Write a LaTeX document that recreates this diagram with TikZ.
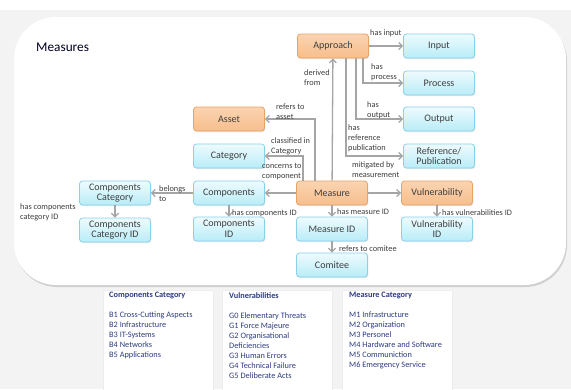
\documentclass[tikz,border=0pt]{standalone}
\usepackage{fontspec}
\setmainfont{Carlito}
\usetikzlibrary{arrows.meta,shadows}

\definecolor{bggray}{HTML}{F3F3F3}
\definecolor{ortop}{HTML}{FAD4B2}
\definecolor{orbot}{HTML}{F7BE8C}
\definecolor{orline}{HTML}{E8A263}
\definecolor{bltop}{HTML}{EEFBFE}
\definecolor{blbot}{HTML}{B8ECF8}
\definecolor{blline}{HTML}{88D1EA}
\definecolor{linkgray}{HTML}{A5A5A5}
\definecolor{txtgray}{HTML}{3E3E3E}
\definecolor{navy}{HTML}{2E3C82}

\tikzset{
  box/.style={rounded corners=3pt, minimum width=71pt, minimum height=24pt,
    inner sep=1.5pt, align=center, font=\fontsize{10}{10.5}\selectfont, text=txtgray,
    line width=0.8pt, drop shadow={opacity=0.18, shadow xshift=0.8pt, shadow yshift=-1pt}},
  orbox/.style={box, draw=orline, top color=ortop, bottom color=orbot},
  blbox/.style={box, draw=blline, top color=bltop, bottom color=blbot},
  link/.style={draw=linkgray, line width=1.3pt, -{Straight Barb[length=3.5pt,width=7pt]}},
  lbl/.style={font=\fontsize{8.3}{10}\selectfont, text=txtgray, align=left,
    anchor=west, inner sep=0pt},
  panel/.style={fill=white, draw=black!7, line width=0.6pt},
  listtext/.style={font=\fontsize{8.3}{10}\selectfont, text=navy, align=left,
    anchor=north west, inner sep=0pt}
}

\begin{document}
\begin{tikzpicture}[x=1pt, y=-1pt]
  \useasboundingbox (0,0) rectangle (571,389);
  \clip (0,0) rectangle (571,389);
  \fill[white] (0,0) rectangle (571,389);
  \fill[bggray] (0,10) rectangle (571,389);

  % main frame
  \fill[white, rounded corners=42pt, drop shadow={opacity=0.3, shadow xshift=1pt, shadow yshift=-2pt}]
    (14,17) rectangle (566,285);
  \node[font=\fontsize{13.3}{14}\selectfont, text=black!75!blue!60!black, anchor=west, inner sep=0pt]
    (title) at (36,47.5) {Measures};

  % nodes
  \node[orbox] (approach) at (333,46) {Approach};
  \node[blbox] (input) at (439,46) {Input};
  \node[blbox] (process) at (439,83) {Process};
  \node[blbox] (output) at (439,119) {Output};
  \node[blbox] (reference) at (439,156) {Reference/\\Publication};
  \node[orbox] (measure) at (332,193) {Measure};
  \node[orbox] (vuln) at (437,193) {Vulnerability};
  \node[orbox] (asset) at (229,119) {Asset};
  \node[blbox] (category) at (229,156) {Category};
  \node[blbox] (components) at (229,193) {Components};
  \node[blbox] (compcat) at (115,193) {Components\\Category};
  \node[blbox] (compcatid) at (115,230) {Components\\Category ID};
  \node[blbox] (compid) at (229,229) {Components\\ID};
  \node[blbox] (measureid) at (332,229) {Measure ID};
  \node[blbox] (vulnid) at (437,229) {Vulnerability\\ID};
  \node[blbox] (comitee) at (332,265) {Comitee};

  % connectors
  \draw[link] (approach) -- (input);
  \draw[link] ([xshift=30pt]approach.south) |- (process);
  \draw[link] ([xshift=23pt]approach.south) |- (output);
  \draw[link] ([xshift=13pt]approach.south) |- (reference);
  \draw[link] (measure) -- (approach);
  \draw[link] (measure) -- (vuln);
  \draw[link] ([xshift=-17pt]measure.north) |- (asset);
  \draw[link] ([xshift=-29pt]measure.north) |- (category);
  \draw[link] (measure) -- (components);
  \draw[link] (components) -- (compcat);
  \draw[link] (components) -- (compid);
  \draw[link] (compcat) -- (compcatid);
  \draw[link] (measure) -- (measureid);
  \draw[link] (measureid) -- (comitee);
  \draw[link] (vuln) -- (vulnid);

  % connector labels
  \node[lbl] (l-input) at (370,33) {has input};
  \node[lbl] (l-process) at (371,72) {has\\process};
  \node[lbl] (l-output) at (367,110) {has\\output};
  \node[lbl] (l-ref) at (348,138) {has\\reference\\publication};
  \node[lbl] (l-derived) at (304,78) {derived\\from};
  \node[lbl] (l-mitig) at (352,170) {mitigated by\\measurement};
  \node[lbl] (l-asset) at (276,112) {refers to\\asset};
  \node[lbl] (l-categ) at (271,146) {classified in\\Category};
  \node[lbl] (l-concern) at (262,172) {concerns to\\component};
  \node[lbl] (l-belongs) at (159,194) {belongs\\to};
  \node[lbl] (l-compid) at (232,213) {has components ID};
  \node[lbl] (l-compcatid) at (20,212.5) {has components\\category ID};
  \node[lbl] (l-measid) at (337,212) {has measure ID};
  \node[lbl] (l-comitee) at (339,249) {refers to comitee};
  \node[lbl] (l-vulnid) at (442,212.5) {has vulnerabilities ID};

  % category lists
  \fill[panel] (103,290) rectangle (213,400);
  \fill[panel] (222,290) rectangle (332,400);
  \fill[panel] (342,290) rectangle (452,400);
  \node[listtext] (list-b) at (109,292) {\textbf{Components Category}\\[10pt]
    B1 Cross-Cutting Aspects\\B2 Infrastructure\\B3 IT-Systems\\B4 Networks\\B5 Applications};
  \node[listtext] (list-g) at (229,292) {\textbf{Vulnerabilities}\\[10pt]
    G0 Elementary Threats\\G1 Force Majeure\\G2 Organisational\\Deficiencies\\G3 Human Errors\\G4 Technical Failure\\G5 Deliberate Acts};
  \node[listtext] (list-m) at (349,292) {\textbf{Measure Category}\\[10pt]
    M1 Infrastructure\\M2 Organization\\M3 Personel\\M4 Hardware and Software\\M5 Communiction\\M6 Emergency Service};
\end{tikzpicture}
\end{document}
